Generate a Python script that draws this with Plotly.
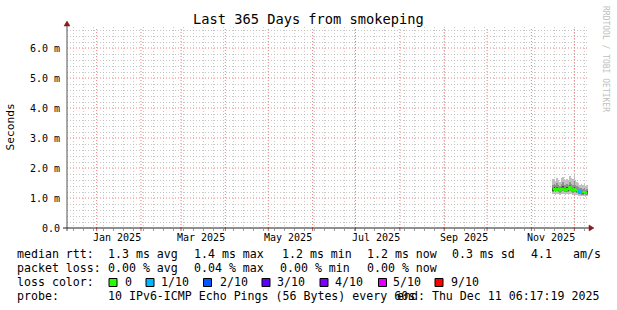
import plotly.graph_objects as go

# ---------------- data ----------------
dates = ["2025-11-16", "2025-11-17", "2025-11-18", "2025-11-19", "2025-11-20",
         "2025-11-21", "2025-11-22", "2025-11-23", "2025-11-24", "2025-11-25",
         "2025-11-26", "2025-11-27", "2025-11-28", "2025-11-29", "2025-11-30",
         "2025-12-01", "2025-12-02", "2025-12-03", "2025-12-04", "2025-12-05",
         "2025-12-06", "2025-12-07", "2025-12-08", "2025-12-09", "2025-12-10"]

median_ms = [1.28, 1.30, 1.27, 1.31, 1.29, 1.26, 1.30, 1.32, 1.28, 1.27, 1.30, 1.29, 1.38,
             1.28, 1.26, 1.30, 1.27, 1.25, 1.22, 1.20, 1.19, 1.18, 1.20, 1.17, 1.19]
loss_frac = [0, 0, 0, 0, 0, 0, 0, 0, 0, 0, 0, 0, 0, 0, 0, 0, 0, 0, 0, 0.1, 0, 0, 0, 0, 0]

outer_hi = [1.62, 1.65, 1.58, 1.68, 1.60, 1.55, 1.66, 1.70, 1.62, 1.58, 1.64, 1.60, 1.72,
            1.66, 1.62, 1.85, 1.60, 1.55, 1.50, 1.45, 1.48, 1.42, 1.46, 1.40, 1.44]
outer_lo = [1.12, 1.14, 1.10, 1.13, 1.12, 1.10, 1.13, 1.15, 1.12, 1.10, 1.12, 1.11, 1.14,
            1.12, 1.10, 1.12, 1.10, 1.09, 1.08, 1.07, 1.06, 1.06, 1.07, 1.05, 1.06]
mid_hi = [1.45, 1.48, 1.42, 1.50, 1.44, 1.40, 1.48, 1.52, 1.45, 1.42, 1.47, 1.44, 1.55,
          1.48, 1.44, 1.58, 1.43, 1.40, 1.36, 1.32, 1.34, 1.30, 1.33, 1.28, 1.31]
mid_lo = [1.20, 1.22, 1.19, 1.22, 1.21, 1.18, 1.21, 1.23, 1.20, 1.19, 1.21, 1.20, 1.24,
          1.20, 1.18, 1.21, 1.19, 1.17, 1.14, 1.12, 1.11, 1.10, 1.12, 1.09, 1.11]
inner_hi = [1.34, 1.37, 1.33, 1.38, 1.35, 1.32, 1.36, 1.39, 1.34, 1.33, 1.36, 1.35, 1.44,
            1.34, 1.32, 1.37, 1.33, 1.31, 1.27, 1.25, 1.24, 1.23, 1.25, 1.22, 1.24]
inner_lo = [1.24, 1.26, 1.23, 1.27, 1.25, 1.22, 1.26, 1.28, 1.24, 1.23, 1.26, 1.25, 1.30,
            1.24, 1.22, 1.26, 1.23, 1.21, 1.18, 1.16, 1.15, 1.14, 1.16, 1.13, 1.15]

x_start = "2024-12-11 06:17:19"
x_end = "2025-12-11 06:17:19"
month_starts = ["2025-01-01", "2025-02-01", "2025-03-01", "2025-04-01", "2025-05-01",
                "2025-06-01", "2025-07-01", "2025-08-01", "2025-09-01", "2025-10-01",
                "2025-11-01", "2025-12-01"]
month_label_pos = ["2025-01-15", "2025-03-15", "2025-05-15", "2025-07-15", "2025-09-15", "2025-11-15"]
month_labels = ["Jan 2025", "Mar 2025", "May 2025", "Jul 2025", "Sep 2025", "Nov 2025"]

y_major = [1, 2, 3, 4, 5, 6]
y_label_vals = [0, 1, 2, 3, 4, 5, 6]
y_label_text = ["0.0", "1.0 m", "2.0 m", "3.0 m", "4.0 m", "5.0 m", "6.0 m"]

title_text = "Last 365 Days from smokeping"
rtt_items = ["median rtt:", "1.3 ms avg", "1.4 ms max", "1.2 ms min", "1.2 ms now",
             "0.3 ms sd", "4.1", "am/s"]
loss_items = ["packet loss:", "0.00 % avg", "0.04 % max", "0.00 % min", "0.00 % now"]
loss_labels = ["0", "1/10", "2/10", "3/10", "4/10", "5/10", "9/10"]
loss_colors = ["#26ff00", "#00b8ff", "#0059ff", "#5e00ff", "#7e00ff", "#dd00ff", "#ff0000"]
probe_text = "10 IPv6-ICMP Echo Pings (56 Bytes) every 60s"
end_text = "end: Thu Dec 11 06:17:19 2025"

# ---------------- layout geometry (pixels) ----------------
W, H = 617, 310
L, R, T, B = 67, 589, 27, 228
MONO = "DejaVu Sans Mono"


def xp(px):
    return (px - L) / (R - L)


def yp(py):
    return (B - py) / (B - T)


DAY = 86400000

fig = go.Figure()

# smoke layers
for lo, hi, col in [(outer_lo, outer_hi, "#c0c0c0"),
                    (mid_lo, mid_hi, "#909090"),
                    (inner_lo, inner_hi, "#404040")]:
    fig.add_trace(go.Bar(x=dates, base=lo, y=[h - l for h, l in zip(hi, lo)],
                         width=DAY, marker=dict(color=col, line=dict(width=0)),
                         showlegend=False, hoverinfo="skip"))

# median line (green, loss 0)
fig.add_trace(go.Scatter(x=dates, y=median_ms, mode="lines",
                         line=dict(color=loss_colors[0], width=2, shape="hvh"),
                         showlegend=False, hoverinfo="skip"))
# days with 1/10 loss
lx = [d for d, f in zip(dates, loss_frac) if f > 0]
ly = [m for m, f in zip(median_ms, loss_frac) if f > 0]
fig.add_trace(go.Scatter(x=lx, y=ly, mode="markers",
                         marker=dict(color=loss_colors[1], size=4, symbol="square"),
                         showlegend=False, hoverinfo="skip"))

major_grid = "rgba(240,100,100,0.85)"
minor_grid = "rgba(185,185,185,0.8)"

# minor horizontal grid every 0.2 ms (whole ms drawn in red separately)
y_minor_vals = [i / 5 for i in range(1, 34) if i % 5 != 0]

fig.update_layout(
    width=W, height=H, autosize=False,
    margin=dict(l=L, r=W - R, t=T, b=H - B, pad=0),
    paper_bgcolor="white", plot_bgcolor="white",
    barmode="overlay", bargap=0, showlegend=False,
    xaxis=dict(type="date", range=[x_start, x_end], tickmode="linear",
               tick0="2024-12-16", dtick=7 * DAY,
               showticklabels=False, showgrid=True, gridcolor=minor_grid,
               griddash="1px,2px", gridwidth=1, zeroline=False, showline=False,
               ticks="outside", ticklen=2, tickcolor="#999999"),
    yaxis=dict(range=[0, 6.7], tickmode="array", tickvals=y_minor_vals,
               ticktext=[""] * len(y_minor_vals), showgrid=True, gridcolor=minor_grid,
               griddash="1px,2px", gridwidth=1, zeroline=False, showline=False,
               ticks="", showticklabels=False),
)

shapes = []
# major (red) grid lines: month starts and whole milliseconds
for m in month_starts:
    shapes.append(dict(type="line", xref="x", yref="paper", x0=m, x1=m, y0=0, y1=1,
                       layer="below", line=dict(color=major_grid, width=1, dash="1px,2px")))
    shapes.append(dict(type="line", xref="x", yref="paper", x0=m, x1=m, y0=-3 / 201, y1=0,
                       layer="above", line=dict(color="#e05050", width=1)))
for v in y_major:
    shapes.append(dict(type="line", xref="paper", yref="y", x0=0, x1=1, y0=v, y1=v,
                       layer="below", line=dict(color=major_grid, width=1, dash="1px,2px")))

ann = []


def text(px, py, s, size=11.6, anchor="left", color="#000", angle=0, yanchor="middle"):
    ann.append(dict(x=xp(px), y=yp(py), xref="paper", yref="paper", text=s,
                    showarrow=False, xanchor=anchor, yanchor=yanchor,
                    textangle=angle, borderpad=0,
                    font=dict(family=MONO, size=size, color=color)))


# y tick labels (data coordinates on y)
for v, lab in zip(y_label_vals, y_label_text):
    ann.append(dict(x=xp(61), y=v, xref="paper", yref="y", text=lab,
                    showarrow=False, xanchor="right", yanchor="middle", borderpad=0,
                    font=dict(family=MONO, size=10, color="#000")))

# title
text(308.5, 19, title_text, size=13.7, anchor="center")
# y title
text(10, 127.5, "Seconds", size=11.2, anchor="center", angle=-90)
# watermark
text(606, 59, "RRDTOOL / TOBI OETIKER", size=8, anchor="center", angle=90, color="#c0c0c0")

# month labels (data coordinates on x)
for pos, lab in zip(month_label_pos, month_labels):
    ann.append(dict(x=pos, y=yp(237.5), xref="x", yref="paper", text=lab,
                    showarrow=False, xanchor="center", yanchor="middle", borderpad=0,
                    font=dict(family=MONO, size=10, color="#000")))

# legend lines
for px, s in zip([16, 107, 193, 280.5, 365.5, 450.5, 530, 572], rtt_items):
    text(px, 254, s)
for px, s in zip([16, 107, 193, 279, 365.5], loss_items):
    text(px, 268, s)
text(16, 282, "loss color:")
box_x = [109, 146, 203.5, 262, 320, 378.5, 435]
text_x = [124, 160, 218.5, 276, 334, 392, 450]
for bx, tx, lab, col in zip(box_x, text_x, loss_labels, loss_colors):
    shapes.append(dict(type="rect", xref="paper", yref="paper",
                       x0=xp(bx), x1=xp(bx + 8), y0=yp(286.5), y1=yp(278.5),
                       fillcolor=col, line=dict(color="#000", width=1)))
    text(tx, 282, lab)
text(16, 296, "probe:")
text(107, 296, probe_text)
text(600, 296, end_text, anchor="right")

# axes lines and arrows
axis_col = "#202020"
arrow_col = "#8b1a1a"
shapes.append(dict(type="line", xref="paper", yref="paper", x0=xp(67), x1=xp(67),
                   y0=yp(231), y1=yp(25), line=dict(color="#505050", width=1)))
shapes.append(dict(type="line", xref="paper", yref="paper", x0=xp(63), x1=xp(590),
                   y0=yp(228), y1=yp(228), line=dict(color=axis_col, width=1)))
shapes.append(dict(type="path", xref="paper", yref="paper",
                   path=f"M {xp(67)} {yp(21)} L {xp(64)} {yp(26)} L {xp(70)} {yp(26)} Z",
                   fillcolor=arrow_col, line=dict(color=arrow_col, width=0.5)))
shapes.append(dict(type="path", xref="paper", yref="paper",
                   path=f"M {xp(594)} {yp(228)} L {xp(589)} {yp(225)} L {xp(589)} {yp(231)} Z",
                   fillcolor=arrow_col, line=dict(color=arrow_col, width=0.5)))

fig.update_layout(annotations=ann, shapes=shapes)

fig.write_html("out.html", config={"displayModeBar": False, "staticPlot": True})
